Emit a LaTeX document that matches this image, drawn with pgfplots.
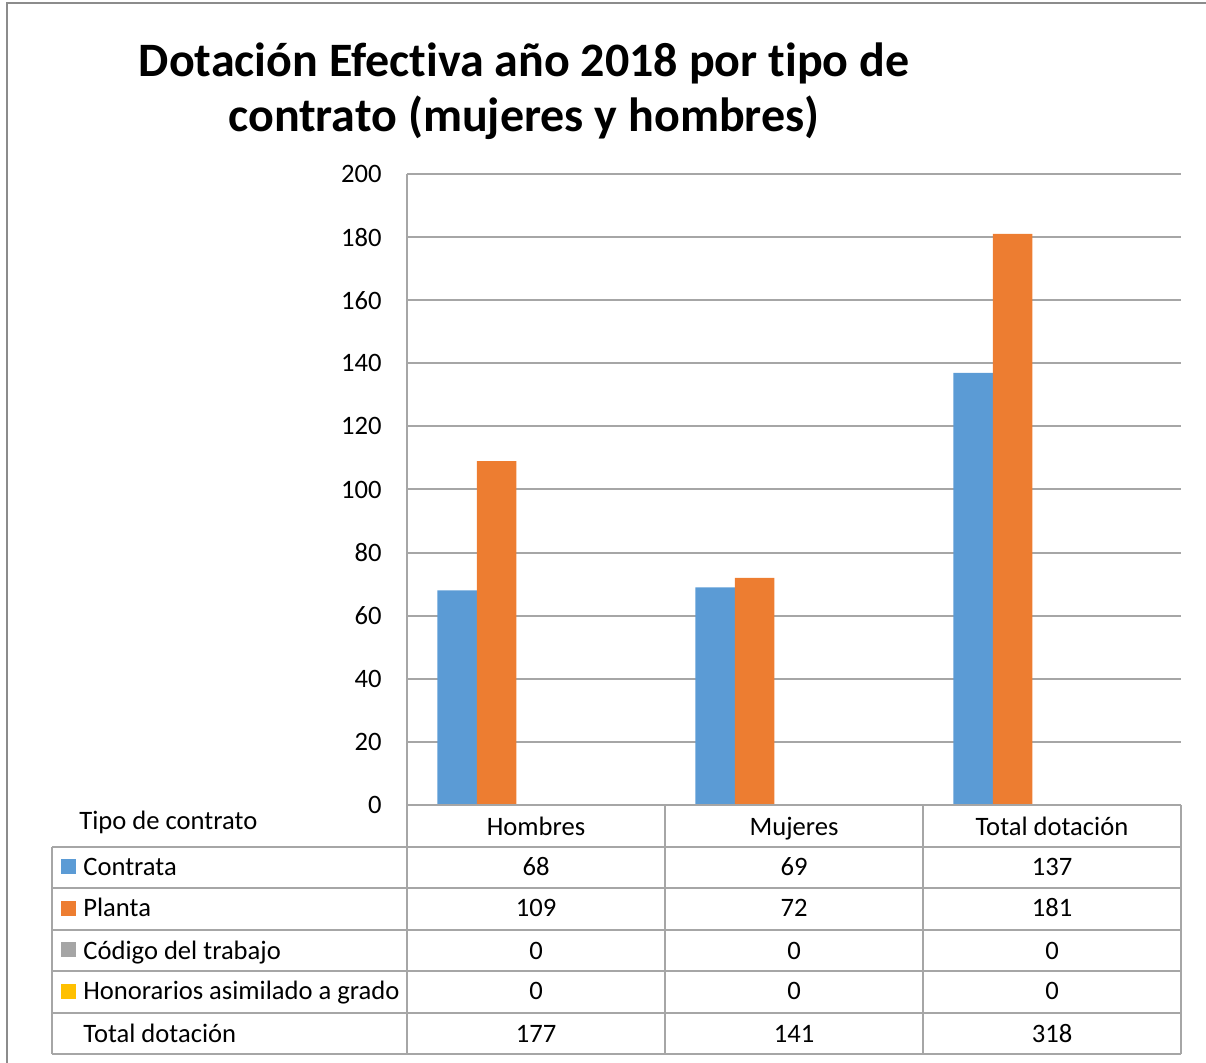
\documentclass[border=0pt]{standalone}
\usepackage{pgfplots}
\pgfplotsset{compat=1.18}
\usepackage{fontspec}
\setmainfont[Ligatures={NoCommon}]{Carlito}
\definecolor{cBlue}{HTML}{5B9BD5}
\definecolor{cOrange}{HTML}{ED7D31}
\definecolor{cGray}{HTML}{A5A5A5}
\definecolor{cGold}{HTML}{FFC000}
\definecolor{gridc}{HTML}{A6A6A6}
\definecolor{framec}{HTML}{8C8C8C}
\begin{document}
\begin{tikzpicture}
\useasboundingbox (0pt,0pt) rectangle (603pt,-531.5pt);
\begin{axis}[
 at={(203.5pt,-402.5pt)}, anchor=south west,
 width=387pt, height=315.5pt, scale only axis,
 xmin=-0.5, xmax=2.5, ymin=0, ymax=200,
 ytick={0,20,...,200}, xtick=\empty,
 ymajorgrids, grid style={gridc, line width=1pt},
 axis line style={draw=none},
 major tick length=0pt,
 y tick label style={font=\fontsize{13.3}{15}\selectfont, inner sep=0pt, xshift=-12.5pt},
 /pgf/number format/assume math mode=true,
 ybar, bar width=19.75pt,
 clip=false,
]
\addplot[fill=cBlue, draw=none, bar shift=-39.5pt] coordinates {(0,68) (1,69) (2,137)};
\addplot[fill=cOrange, draw=none, bar shift=-19.75pt] coordinates {(0,109) (1,72) (2,181)};
\addplot[fill=cGray, draw=none, bar shift=0pt] coordinates {(0,0) (1,0) (2,0)};
\addplot[fill=cGold, draw=none, bar shift=19.75pt] coordinates {(0,0) (1,0) (2,0)};
\end{axis}
\begin{scope}[x=0.5pt, y=-0.5pt]
 % frame
 \draw[framec, line width=0.75pt] (7,1063) -- (7,3) -- (1206,3);
 % left axis line
 \draw[gridc, line width=1pt] (407,174) -- (407,805);
 % title
 \node[anchor=base, font=\fontsize{24}{28}\selectfont\bfseries] at (524,77) {Dotación Efectiva año 2018 por tipo de};
 \node[anchor=base, font=\fontsize{24}{28}\selectfont\bfseries] at (524,132) {contrato (mujeres y hombres)};
 % table lines
 \draw[gridc, line width=1pt] (407,805) -- (1181,805);
 \foreach \yy in {847,888,930,971,1013,1054} \draw[gridc, line width=1pt] (52,\yy) -- (1181,\yy);
 \draw[gridc, line width=1pt] (52,847) -- (52,1054);
 \foreach \xx in {407,665,923,1181} \draw[gridc, line width=1pt] (\xx,805) -- (\xx,1054);
 \begin{scope}[every node/.style={font=\fontsize{13.3}{15}\selectfont, inner sep=0pt}]
 % header
 \node[anchor=base west] at (79,830) {Tipo de contrato};
 \node[anchor=base] at (536,836) {Hombres};
 \node[anchor=base] at (794,836) {Mujeres};
 \node[anchor=base] at (1052,836) {Total dotación};
 % row labels
 \fill[cBlue] (61,859) rectangle (76,874);
 \fill[cOrange] (61,901) rectangle (76,916);
 \fill[cGray] (61,942) rectangle (76,957);
 \fill[cGold] (61,984) rectangle (76,999);
 \node[anchor=base west] at (83,876) {Contrata};
 \node[anchor=base west] at (83,917) {Planta};
 \node[anchor=base west] at (83,959) {Código del trabajo};
 \node[anchor=base west] at (83,1000) {Honorarios asimilado a grado};
 \node[anchor=base west] at (83,1042) {Total dotación};
 % values
 \node[anchor=base] at (536,876) {68};
 \node[anchor=base] at (794,876) {69};
 \node[anchor=base] at (1052,876) {137};
 \node[anchor=base] at (536,917) {109};
 \node[anchor=base] at (794,917) {72};
 \node[anchor=base] at (1052,917) {181};
 \node[anchor=base] at (536,959) {0};
 \node[anchor=base] at (794,959) {0};
 \node[anchor=base] at (1052,959) {0};
 \node[anchor=base] at (536,1000) {0};
 \node[anchor=base] at (794,1000) {0};
 \node[anchor=base] at (1052,1000) {0};
 \node[anchor=base] at (536,1042) {177};
 \node[anchor=base] at (794,1042) {141};
 \node[anchor=base] at (1052,1042) {318};
 \end{scope}
\end{scope}
\end{tikzpicture}
\end{document}
